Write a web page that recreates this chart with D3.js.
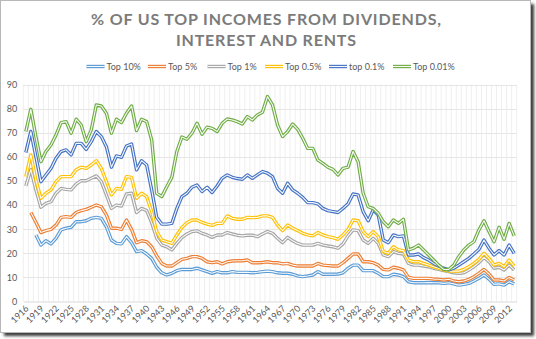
<!DOCTYPE html>
<html>
<head>
<meta charset="utf-8">
<script src="https://cdn.jsdelivr.net/npm/d3@7"></script>
<style>
  html, body { margin: 0; padding: 0; background: #ffffff; }
  svg { display: block; }
  text { font-family: Lato, "Open Sans", sans-serif; }
</style>
</head>
<body>
<svg id="chart" width="536" height="339"></svg>
<script>
// Category axis: one category per year
const years = d3.range(1916, 2014);
const tickYears = d3.range(1916, 2014, 3);
const yTicks = [0, 10, 20, 30, 40, 50, 60, 70, 80, 90];

// Share of income from dividends, interest and rents (%), 1916-2013
const top10 = [null, null,
  27.6, 23.4, 25.2, 23.9, 26.2, 29.7, 30.4, 30.8, 33.1, 33.1, 33.5, 34.5, 34.9, 34.5, 31.0, 25.5, 24.1, 23.9, 26.9, 24.4,
  20.7, 21.1, 19.7, 17.9, 14.2, 11.9, 11.0, 11.7, 12.8, 13.3,
  13.3, 13.3, 13.8, 13.1, 12.4, 11.7, 12.4, 11.9, 11.9, 12.4, 12.1, 12.1, 12.1, 11.9, 12.1, 12.4, 12.6, 12.4, 11.9, 11.7,
  11.7, 11.3, 10.6, 10.3, 10.6, 11.0, 12.4, 11.3, 11.3, 11.3, 11.4, 11.9,
  13.8, 15.1, 15.1, 12.8, 12.8, 12.8, 11.7, 10.3, 10.3, 11.3, 11.0, 10.3, 8.2, 7.8, 7.8, 7.8, 7.9, 7.8, 7.8, 7.5,
  7.8, 7.3, 6.8, 7.1, 7.5, 8.5, 9.6, 11.0, 9.3, 7.1, 7.3, 6.8, 8.2, 7.3];

const top5 = [null,
  36.9, 32.9, 28.6, 29.4, 29.9, 31.7, 34.9, 35.2, 34.9, 36.9, 37.7, 38.2, 39.1, 40.0, 39.3, 35.9, 30.4, 30.4, 29.9, 33.8,
  29.9, 24.4, 25.2, 24.8, 22.7, 18.9, 15.8, 14.7, 14.7, 16.1, 17.5,
  17.9, 18.6, 18.6, 17.9, 16.5, 16.1, 16.5, 15.6, 16.5, 16.8, 16.9, 16.9, 17.2, 16.1, 16.1, 16.2, 16.5, 16.1, 16.1, 15.6,
  15.8, 15.1, 14.7, 14.7, 14.7, 14.7, 15.8, 15.1, 14.9, 14.7, 14.7, 16.1,
  17.9, 19.7, 19.7, 16.5, 16.5, 16.1, 15.1, 13.3, 13.1, 14.2, 13.8, 13.1, 10.0, 9.6, 9.6, 9.6, 9.6, 9.3, 9.2, 8.9,
  9.2, 8.5, 8.2, 8.5, 9.2, 10.3, 11.7, 13.3, 11.4, 8.9, 8.9, 8.5, 10.0, 8.9];

const top1 = [
  47.9, 54.8, 46.3, 39.1, 40.7, 41.4, 44.9, 46.9, 46.5, 46.3, 48.7, 50.1, 50.1, 51.1, 52.1, 49.7, 44.2, 38.6, 40.0, 39.6,
  44.6, 44.9, 36.9, 38.6, 37.7, 32.7, 26.2, 23.4, 22.7, 21.4, 24.1, 26.5,
  28.0, 29.0, 29.3, 28.3, 27.6, 26.6, 27.6, 27.6, 28.6, 28.0, 27.5, 27.2, 27.5, 27.5, 26.9, 28.0, 29.0, 28.3, 26.2, 24.4,
  26.6, 25.2, 24.1, 23.4, 23.4, 23.4, 24.1, 23.4, 23.0, 22.7, 22.1, 23.9,
  27.2, 29.7, 29.4, 25.5, 24.1, 26.2, 24.1, 19.3, 18.6, 20.7, 20.0, 19.7, 15.8, 15.1, 15.1, 14.7, 14.4, 13.8, 13.3, 12.8,
  12.4, 11.9, 11.7, 11.9, 13.1, 14.4, 16.1, 18.3, 16.5, 13.8, 14.2, 13.1, 15.1, 13.1];

const top05 = [
  51.8, 60.8, 50.4, 42.8, 44.9, 46.3, 49.7, 51.8, 51.8, 51.8, 54.6, 55.7, 55.2, 56.6, 58.4, 55.2, 49.7, 44.2, 46.9, 46.5,
  51.8, 51.5, 42.8, 44.9, 43.5, 37.3, 29.0, 25.5, 24.8, 24.1, 27.6, 30.7,
  32.7, 33.8, 33.8, 32.8, 32.1, 31.6, 32.4, 32.4, 35.5, 34.5, 34.1, 34.1, 34.9, 34.8, 34.9, 35.5, 35.5, 34.9, 31.7, 29.4,
  31.7, 30.4, 29.4, 28.3, 27.6, 27.2, 28.6, 27.6, 26.9, 26.5, 25.8, 27.6,
  29.9, 33.8, 33.5, 29.0, 26.9, 29.0, 26.9, 20.7, 20.0, 22.7, 21.4, 21.1, 17.2, 16.5, 16.5, 15.8, 15.1, 14.4, 13.8, 13.1,
  12.6, 12.6, 12.6, 13.3, 14.4, 15.8, 17.5, 20.0, 17.9, 15.1, 15.8, 14.4, 17.2, 14.7];

const top01 = [
  61.8, 70.5, 60.1, 49.7, 52.5, 55.2, 59.4, 62.2, 62.9, 60.8, 65.6, 65.6, 63.1, 66.3, 70.5, 68.4, 64.2, 55.7, 60.4, 59.8,
  64.5, 65.3, 54.6, 58.4, 56.6, 46.3, 34.9, 32.1, 32.1, 32.4, 38.6, 43.5,
  44.9, 47.4, 48.3, 45.6, 47.4, 45.2, 47.9, 51.1, 52.5, 51.5, 51.0, 50.7, 52.5, 51.1, 52.5, 53.9, 53.2, 51.8, 46.9, 44.9,
  49.0, 46.3, 44.9, 43.2, 41.0, 41.0, 40.5, 38.6, 37.7, 37.3, 36.9, 38.6,
  40.5, 44.6, 44.2, 37.3, 33.5, 38.0, 35.9, 25.5, 24.4, 27.6, 26.9, 27.2, 19.3, 19.3, 19.7, 18.2, 17.2, 15.8, 14.7, 13.8,
  13.1, 13.8, 15.1, 16.5, 17.9, 19.7, 21.6, 25.5, 22.1, 19.3, 21.1, 19.3, 23.4, 20.0];

const top001 = [
  70.5, 79.7, 68.4, 58.0, 62.2, 64.9, 69.1, 74.2, 74.6, 69.8, 75.6, 73.2, 66.3, 71.2, 81.5, 81.1, 78.1, 69.8, 75.6, 74.2,
  78.1, 81.1, 70.9, 75.6, 74.6, 67.0, 44.9, 43.5, 47.6, 51.5, 62.2, 68.2,
  67.3, 69.8, 73.9, 69.4, 72.3, 71.8, 70.5, 73.9, 75.7, 75.3, 74.6, 73.6, 76.7, 75.3, 77.4, 78.5, 85.0, 81.5, 73.2, 68.4,
  70.5, 73.6, 71.4, 67.7, 63.5, 63.5, 58.7, 57.3, 55.7, 54.8, 52.5, 55.2,
  55.7, 62.2, 58.0, 44.9, 39.3, 38.6, 36.6, 33.1, 31.0, 33.8, 32.4, 34.1, 21.4, 22.1, 23.4, 21.4, 19.3, 17.2, 15.1, 13.3,
  13.3, 15.1, 18.6, 21.4, 23.4, 24.8, 29.7, 33.5, 29.0, 24.8, 30.8, 25.8, 32.4, 27.2];

const seriesNames = ["Top 10%", "Top 5%", "Top 1%", "Top 0.5%", "top 0.1%", "Top 0.01%"];
const seriesValues = [top10, top5, top1, top05, top01, top001];
const seriesColors = ["#5B9BD5", "#ED7D31", "#A5A5A5", "#FFC000", "#4472C4", "#70AD47"];

const svg = d3.select("#chart");

// Frame with soft drop shadow
const defs = svg.append("defs");
const blur = defs.append("filter").attr("id", "shadow")
  .attr("x", "-5%").attr("y", "-5%").attr("width", "110%").attr("height", "110%");
blur.append("feGaussianBlur").attr("stdDeviation", 1.6);
svg.append("rect").attr("x", 4).attr("y", 4).attr("width", 530).attr("height", 332)
  .attr("fill", "#3a3a3a").attr("filter", "url(#shadow)");
svg.append("rect").attr("x", 0.5).attr("y", 0.5).attr("width", 530).attr("height", 332)
  .attr("fill", "#ffffff").attr("stroke", "#b8b8b8");

// Scales
const x = d3.scaleBand().domain(years).range([23.3, 516.7]).padding(0);
const cx = d => x(d) + x.bandwidth() / 2;
const y = d3.scaleLinear().domain([0, 90]).range([301.5, 84.5]);

// Gridlines
const grid = svg.append("g");
grid.selectAll("line.v").data(d3.range(years.length + 1)).join("line")
  .attr("x1", i => 23.3 + i * x.bandwidth()).attr("x2", i => 23.3 + i * x.bandwidth())
  .attr("y1", y(90)).attr("y2", y(0))
  .attr("stroke", "#efefef").attr("stroke-width", 1);
grid.selectAll("line.h").data(yTicks.slice(1)).join("line")
  .attr("x1", 23.3).attr("x2", 516.7)
  .attr("y1", d => Math.round(y(d)) + 0.5).attr("y2", d => Math.round(y(d)) + 0.5)
  .attr("stroke", "#e6e6e6").attr("stroke-width", 1);

// Axes
const yAxis = svg.append("g").attr("transform", "translate(23.3,0)")
  .call(d3.axisLeft(y).tickValues(yTicks).tickSize(0).tickPadding(6));
yAxis.select(".domain").remove();
yAxis.selectAll("text").attr("fill", "#595959").attr("font-size", 9)
  .attr("font-family", "Lato, 'Open Sans', sans-serif");

const xAxis = svg.append("g").attr("transform", `translate(0,${y(0)})`)
  .call(d3.axisBottom(x).tickValues(tickYears).tickSize(0).tickPadding(0));
xAxis.select(".domain").attr("stroke", "#d9d9d9");
xAxis.selectAll("text")
  .attr("fill", "#595959").attr("font-size", 9)
  .attr("font-family", "Lato, 'Open Sans', sans-serif")
  .attr("text-anchor", "end")
  .attr("dy", 0).attr("y", 0)
  .attr("transform", "translate(3.5,7.5) rotate(-45)");

// Series lines: double stroke (coloured outer, white inner)
const line = d3.line()
  .defined(d => d.v != null)
  .x(d => cx(d.year))
  .y(d => y(d.v));

const lines = svg.append("g");
seriesValues.forEach((vals, k) => {
  const pts = years.map((yr, i) => ({ year: yr, v: vals[i] }));
  lines.append("path").datum(pts).attr("d", line)
    .attr("fill", "none").attr("stroke", seriesColors[k])
    .attr("stroke-width", 3.4).attr("stroke-linejoin", "round");
  lines.append("path").datum(pts).attr("d", line)
    .attr("fill", "none").attr("stroke", "#ffffff").attr("stroke-opacity", 0.95)
    .attr("stroke-width", 1.1).attr("stroke-linejoin", "round");
});

// Title
const title = svg.append("g").attr("fill", "#7b7b7b")
  .attr("font-weight", 700).attr("font-size", 16).attr("text-anchor", "middle");
title.append("text").attr("x", 266).attr("y", 24.5)
  .attr("textLength", 350).attr("lengthAdjust", "spacing")
  .text("% OF US TOP INCOMES FROM DIVIDENDS,");
title.append("text").attr("x", 266).attr("y", 46)
  .attr("textLength", 180).attr("lengthAdjust", "spacing")
  .text("INTEREST AND RENTS");

// Legend
const legendX = [86.5, 148, 207.5, 265, 329, 393];
const legend = svg.append("g");
seriesNames.forEach((name, k) => {
  const g = legend.append("g").attr("transform", `translate(${legendX[k]},66.5)`);
  g.append("line").attr("x1", 0).attr("x2", 18).attr("y1", 0).attr("y2", 0)
    .attr("stroke", seriesColors[k]).attr("stroke-width", 3.4);
  g.append("line").attr("x1", 0).attr("x2", 18).attr("y1", 0).attr("y2", 0)
    .attr("stroke", "#ffffff").attr("stroke-opacity", 0.95).attr("stroke-width", 1.1);
  g.append("text").attr("x", 20).attr("y", 3.2)
    .attr("fill", "#595959").attr("font-size", 9).text(name);
});
</script>
</body>
</html>
